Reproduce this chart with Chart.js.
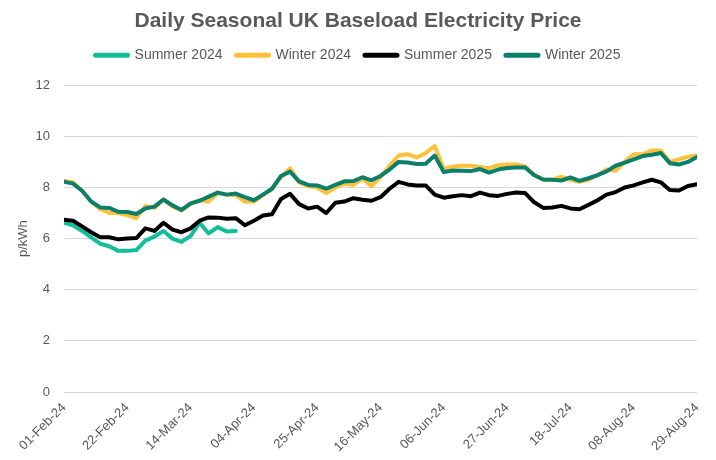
<!DOCTYPE html>
<html><head><meta charset="utf-8">
<script src="https://cdn.jsdelivr.net/npm/chart.js@4.4.1/dist/chart.umd.min.js"></script>
<style>html,body{margin:0;padding:0;background:#fff}#wrap{width:716px;height:460px}</style>
</head><body><div id="wrap"><canvas id="c" width="716" height="460"></canvas></div>
<script>
// day offsets from 01-Feb-24 (sampled every 3 days)
const days = [0,3,6,9,12,15,18,21,24,27,30,33,36,39,42,45,48,51,54,57,60,63,66,69,72,75,78,81,84,87,90,93,96,99,102,105,108,111,114,117,120,123,126,129,132,135,138,141,144,147,150,153,156,159,162,165,168,171,174,177,180,183,186,189,192,195,198,201,204,207,210];
const tickLabels = ['01-Feb-24','22-Feb-24','14-Mar-24','04-Apr-24','25-Apr-24','16-May-24','06-Jun-24','27-Jun-24','18-Jul-24','08-Aug-24','29-Aug-24'];
const seriesNames = ['Summer 2024','Winter 2024','Summer 2025','Winter 2025'];

const summer2024 = [6.62,6.52,6.3,6.05,5.8,5.7,5.52,5.52,5.55,5.92,
  6.08,6.3,6.0,5.87,6.1,6.62,6.2,6.45,6.28,6.3];
const winter2024 = [8.25,8.2,7.87,7.45,7.15,7.0,7.0,6.92,6.8,7.28,
  7.2,7.53,7.25,7.1,7.35,7.5,7.45,7.78,7.72,7.7,
  7.45,7.45,7.7,7.95,8.4,8.75,8.2,8.05,8.0,7.78,
  8.0,8.15,8.1,8.35,8.05,8.4,8.85,9.25,9.3,9.17,
  9.35,9.62,8.72,8.82,8.85,8.85,8.8,8.75,8.87,8.9,
  8.9,8.82,8.5,8.3,8.3,8.42,8.3,8.22,8.3,8.48,
  8.7,8.65,9.0,9.3,9.3,9.45,9.45,9.0,9.1,9.2,
  9.25];
const summer2025 = [6.74,6.7,6.48,6.25,6.05,6.05,5.97,6.0,6.02,6.4,
  6.3,6.62,6.35,6.25,6.4,6.7,6.83,6.82,6.78,6.8,
  6.52,6.7,6.9,6.95,7.55,7.75,7.35,7.18,7.25,7.0,
  7.4,7.45,7.58,7.52,7.48,7.62,7.95,8.22,8.12,8.08,
  8.08,7.72,7.6,7.66,7.7,7.66,7.8,7.7,7.67,7.75,
  7.8,7.78,7.42,7.2,7.22,7.28,7.18,7.15,7.32,7.5,
  7.72,7.82,8.0,8.08,8.2,8.3,8.2,7.9,7.88,8.06,
  8.13];
const winter2025 = [8.23,8.15,7.87,7.45,7.22,7.2,7.05,7.04,6.96,7.18,
  7.25,7.53,7.3,7.12,7.38,7.48,7.64,7.8,7.72,7.76,
  7.62,7.5,7.72,7.95,8.45,8.62,8.24,8.1,8.08,7.95,
  8.1,8.24,8.25,8.4,8.28,8.45,8.7,9.0,8.98,8.92,
  8.93,9.25,8.6,8.66,8.65,8.64,8.72,8.58,8.7,8.76,
  8.78,8.78,8.48,8.31,8.3,8.27,8.39,8.26,8.36,8.48,
  8.63,8.85,8.97,9.1,9.23,9.28,9.35,8.95,8.9,9.0,
  9.19];

const colors = ['#13BE9B','#FFC03A','#000000','#0A7F69'];
const drawOrder = [3,2,1,0];
const allValues = [summer2024, winter2024, summer2025, winter2025];

const toPoints = vals => vals.map((v,i) => ({x: days[i], y: v}));
const textColor = '#595959';
const FONT = "'Liberation Sans', Arial, sans-serif";

const datasets = allValues.map((vals, k) => ({
  label: seriesNames[k],
  data: toPoints(vals),
  borderColor: colors[k],
  backgroundColor: colors[k],
  borderWidth: 4,
  pointRadius: 0,
  tension: 0,
  fill: false,
  borderJoinStyle: 'round',
  borderCapStyle: 'round',
  order: drawOrder[k]
}));

// extra space below the legend
const legendGap = {
  id: 'legendGap',
  afterInit(chart) {
    const lg = chart.legend;
    if (!lg) return;
    const fit = lg.fit.bind(lg);
    lg.fit = function () { fit(); this.height += 13; };
  }
};

new Chart(document.getElementById('c'), {
  type: 'line',
  data: { datasets },
  plugins: [legendGap],
  options: {
    responsive: false,
    animation: false,
    devicePixelRatio: 1,
    layout: { padding: 0 },
    plugins: {
      title: {
        display: true,
        text: 'Daily Seasonal UK Baseload Electricity Price',
        color: textColor,
        font: { family: FONT, size: 21, weight: 'bold' },
        padding: { top: 9, bottom: 0 }
      },
      legend: {
        display: true,
        labels: {
          usePointStyle: true,
          pointStyle: 'line',
          pointStyleWidth: 32,
          color: textColor,
          font: { family: FONT, size: 14 },
          padding: 14,
          sort: (a, b) => a.datasetIndex - b.datasetIndex,
          generateLabels: chart => {
            const items = Chart.defaults.plugins.legend.labels.generateLabels(chart);
            items.forEach(it => { it.lineWidth = 5; it.lineCap = 'round'; });
            return items;
          }
        }
      },
      tooltip: { enabled: false }
    },
    scales: {
      x: {
        type: 'linear',
        min: 0, max: 210,
        grid: { display: false, drawTicks: false },
        border: { display: false },
        afterFit: s => { s.height = 68; s.paddingRight = 19; },
        ticks: {
          stepSize: 21,
          autoSkip: false,
          maxRotation: 45, minRotation: 45,
          padding: 8,
          color: textColor,
          font: { family: FONT, size: 13 },
          callback: v => tickLabels[Math.round(v / 21)]
        }
      },
      y: {
        min: 0, max: 12,
        grid: { color: '#D9D9D9', lineWidth: 1, drawTicks: false },
        border: { display: false },
        afterFit: s => { s.width = 64; },
        ticks: {
          stepSize: 2,
          padding: 14,
          color: textColor,
          font: { family: FONT, size: 13 }
        },
        title: {
          display: true,
          text: 'p/kWh',
          color: textColor,
          font: { family: FONT, size: 13 },
          padding: { top: 16, bottom: 0 }
        }
      }
    }
  }
});
</script>
</body></html>
